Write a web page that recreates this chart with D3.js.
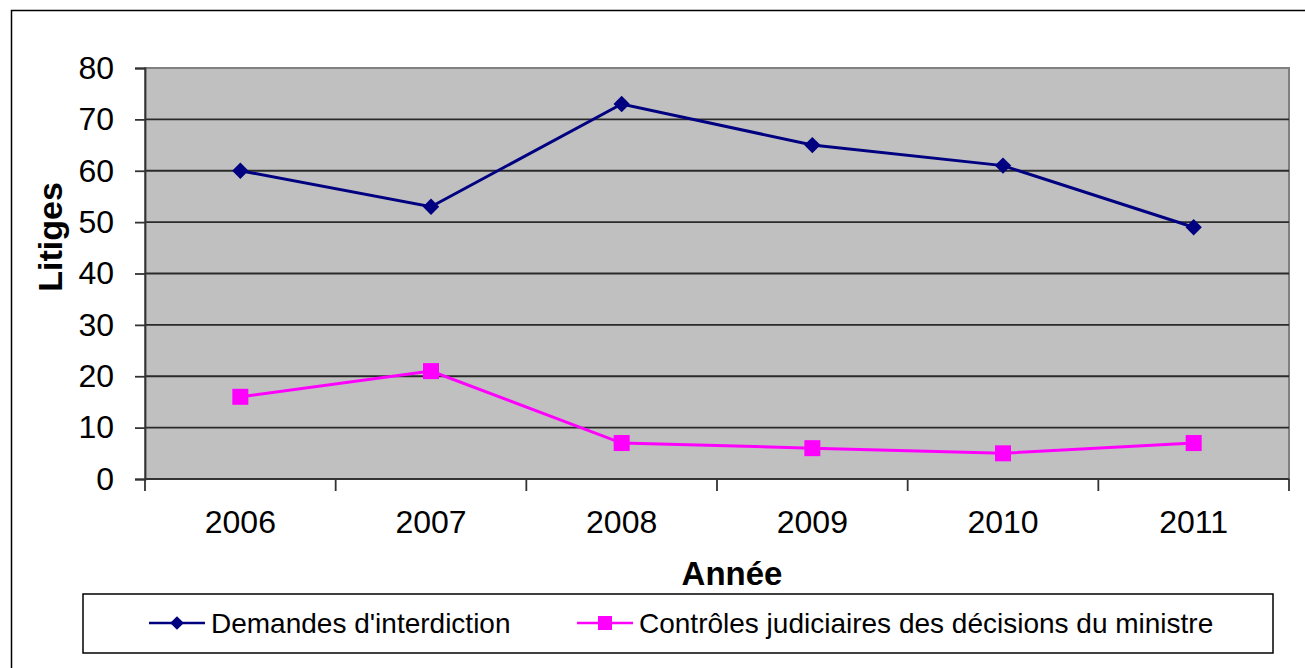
<!DOCTYPE html>
<html>
<head>
<meta charset="utf-8">
<script src="https://cdn.jsdelivr.net/npm/d3@7"></script>
<style>
  body { margin: 0; background: #fff; }
  text { font-family: "Liberation Sans", Arial, sans-serif; fill: #000; }
</style>
</head>
<body>
<div id="chart-area"></div>
<script>
// data
const years = ["2006", "2007", "2008", "2009", "2010", "2011"];
const demandes = [60, 53, 73, 65, 61, 49];
const controles = [16, 21, 7, 6, 5, 7];
const yTicks = [0, 10, 20, 30, 40, 50, 60, 70, 80];
const seriesNames = ["Demandes d'interdiction", "Contrôles judiciaires des décisions du ministre"];

const W = 1305, H = 668;
const plot = {left: 145, top: 68, right: 1289, bottom: 479};

var svg = d3.select("#chart-area")
    .append("svg")
    .attr("width", W)
    .attr("height", H);

// outer frame (right and bottom edges fall outside the picture)
svg.append("rect")
    .attr("x", 11.5).attr("y", 10.5)
    .attr("width", 1400).attr("height", 800)
    .attr("fill", "none").attr("stroke", "#000").attr("stroke-width", 1.5);

// scales
var x = d3.scaleBand()
    .domain(years)
    .range([plot.left, plot.right]);
var y = d3.scaleLinear()
    .domain([0, 80])
    .range([plot.bottom, plot.top]);

// plot background
svg.append("rect")
    .attr("x", plot.left).attr("y", plot.top)
    .attr("width", plot.right - plot.left)
    .attr("height", plot.bottom - plot.top)
    .attr("fill", "#c0c0c0")
    .attr("stroke", "#808080").attr("stroke-width", 2);

// gridlines
svg.append("g")
    .selectAll("line")
    .data(yTicks.filter(d => d > 0 && d < 80))
    .enter().append("line")
    .attr("x1", plot.left).attr("x2", plot.right)
    .attr("y1", d => y(d)).attr("y2", d => y(d))
    .attr("stroke", "#2a2a2a").attr("stroke-width", 1.8);

// y axis
var yAxis = svg.append("g")
    .attr("transform", `translate(${plot.left},0)`)
    .call(d3.axisLeft(y).tickValues(yTicks).tickSize(10).tickPadding(21));
yAxis.select(".domain").attr("stroke", "#333").attr("stroke-width", 1.8);
yAxis.selectAll(".tick line").attr("stroke", "#333").attr("stroke-width", 1.8);
yAxis.selectAll(".tick text")
    .style("font-family", "'Liberation Sans', Arial, sans-serif")
    .style("font-size", "32px").attr("fill", "#000");

// x axis: ticks on category boundaries
var xAxis = svg.append("g")
    .attr("transform", `translate(0,${plot.bottom})`);
xAxis.append("line")
    .attr("x1", plot.left).attr("x2", plot.right)
    .attr("stroke", "#333").attr("stroke-width", 1.8);
xAxis.selectAll(".bt")
    .data(years.map(d => x(d)).concat([x(years[years.length - 1]) + x.bandwidth()]))
    .enter().append("line")
    .attr("class", "bt")
    .attr("x1", d => d).attr("x2", d => d)
    .attr("y1", 0).attr("y2", 12)
    .attr("stroke", "#333").attr("stroke-width", 1.8);
xAxis.selectAll("text")
    .data(years)
    .enter().append("text")
    .attr("x", d => x(d) + x.bandwidth() / 2)
    .attr("y", 54)
    .attr("text-anchor", "middle")
    .style("font-size", "32px")
    .text(d => d);

// axis titles
svg.append("text")
    .attr("transform", "translate(62,237) rotate(-90)")
    .attr("text-anchor", "middle")
    .style("font-size", "34px").style("font-weight", "bold")
    .text("Litiges");
svg.append("text")
    .attr("x", 732).attr("y", 585)
    .attr("text-anchor", "middle")
    .style("font-size", "33px").style("font-weight", "bold")
    .text("Année");

// series
var line = d3.line()
    .x((d, i) => x(years[i]) + x.bandwidth() / 2)
    .y(d => y(d));

svg.append("path")
    .datum(demandes)
    .attr("d", line)
    .attr("fill", "none").attr("stroke", "#000080").attr("stroke-width", 3);
svg.append("path")
    .datum(controles)
    .attr("d", line)
    .attr("fill", "none").attr("stroke", "#ff00ff").attr("stroke-width", 3);

var diamond = d3.symbol().type(d3.symbolDiamond2).size(170);
svg.selectAll(".dm")
    .data(demandes)
    .enter().append("path")
    .attr("class", "dm")
    .attr("d", diamond)
    .attr("transform", (d, i) => `translate(${x(years[i]) + x.bandwidth() / 2},${y(d)})`)
    .attr("fill", "#000080");

var sq = 16;
svg.selectAll(".cj")
    .data(controles)
    .enter().append("rect")
    .attr("class", "cj")
    .attr("x", (d, i) => x(years[i]) + x.bandwidth() / 2 - sq / 2)
    .attr("y", d => y(d) - sq / 2)
    .attr("width", sq).attr("height", sq)
    .attr("fill", "#ff00ff");

// legend
var legend = svg.append("g");
legend.append("rect")
    .attr("x", 83).attr("y", 594)
    .attr("width", 1190).attr("height", 59)
    .attr("fill", "#fff").attr("stroke", "#000").attr("stroke-width", 1.5);

var legItems = [
    {name: seriesNames[0], color: "#000080", x0: 149, shape: "diamond"},
    {name: seriesNames[1], color: "#ff00ff", x0: 577, shape: "square"}
];
var ly = 623;
legItems.forEach(function (it) {
    legend.append("line")
        .attr("x1", it.x0).attr("x2", it.x0 + 56)
        .attr("y1", ly).attr("y2", ly)
        .attr("stroke", it.color).attr("stroke-width", 2.5);
    if (it.shape === "diamond") {
        legend.append("path")
            .attr("d", d3.symbol().type(d3.symbolDiamond2).size(120))
            .attr("transform", `translate(${it.x0 + 28},${ly})`)
            .attr("fill", it.color);
    } else {
        legend.append("rect")
            .attr("x", it.x0 + 28 - 7).attr("y", ly - 7)
            .attr("width", 14).attr("height", 14)
            .attr("fill", it.color);
    }
    legend.append("text")
        .attr("x", it.x0 + 62).attr("y", ly + 10)
        .style("font-size", "28px")
        .text(it.name);
});
</script>
</body>
</html>
